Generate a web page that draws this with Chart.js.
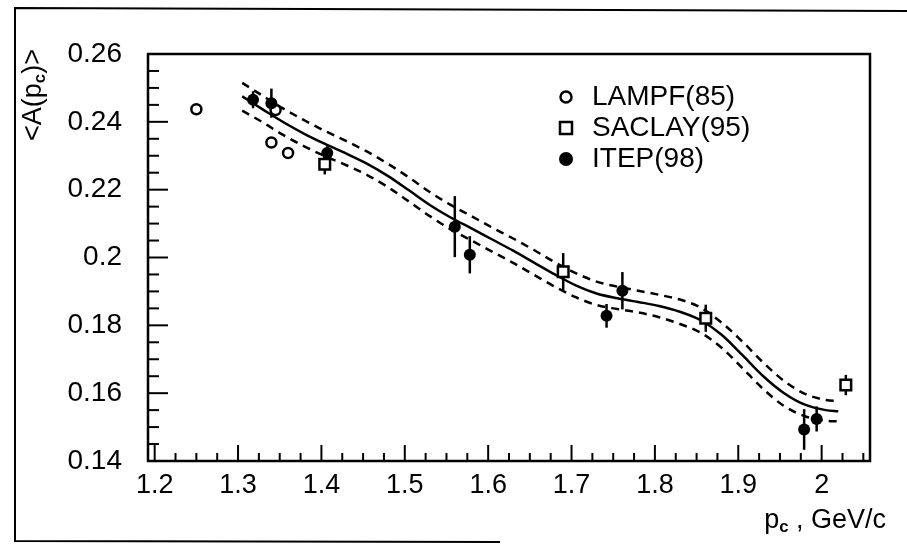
<!DOCTYPE html>
<html>
<head>
<meta charset="utf-8">
<script src="https://cdn.jsdelivr.net/npm/chart.js@4.4.1/dist/chart.umd.min.js"></script>
<style>
  html, body { margin: 0; padding: 0; background: #fff; }
</style>
</head>
<body>
<canvas id="grafico" width="907" height="552"></canvas>
<script>
// LAMPF(85) - circulos abiertos
const lampfX = [1.25, 1.34, 1.345, 1.36];
const lampfY = [0.2437, 0.2339, 0.2435, 0.2308];

// SACLAY(95) - cuadrados abiertos
const saclayX = [1.404, 1.69, 1.861, 2.029];
const saclayY = [0.2275, 0.1958, 0.1821, 0.1624];
const saclayErr = [0.003, 0.0055, 0.004, 0.003];

// ITEP(98) - circulos llenos
const itepX = [1.318, 1.34, 1.407, 1.56, 1.578, 1.742, 1.761, 1.979, 1.994];
const itepY = [0.2465, 0.2455, 0.2308, 0.2091, 0.2008, 0.1828, 0.1902, 0.1493, 0.1524];
const itepErr = [0.0025, 0.0043, 0.002, 0.009, 0.0055, 0.0035, 0.0055, 0.006, 0.0037];

// curva central y banda (lineas discontinuas)
const curveX = [1.305, 1.33, 1.355, 1.38, 1.405, 1.43, 1.455, 1.48, 1.505, 1.53,
                1.555, 1.58, 1.605, 1.63, 1.655, 1.68, 1.705, 1.73, 1.755, 1.78,
                1.805, 1.83, 1.855, 1.88, 1.905, 1.93, 1.955, 1.98, 2.005, 2.02];
const curveY = [0.2475, 0.2436, 0.2398, 0.2364, 0.2334, 0.2306, 0.2276, 0.2240, 0.2198, 0.2155,
                0.2118, 0.2086, 0.2053, 0.2020, 0.1985, 0.1950, 0.1918, 0.1894, 0.1880, 0.1869,
                0.1857, 0.1840, 0.1815, 0.1772, 0.1712, 0.1650, 0.1600, 0.1566, 0.1550, 0.1547];
const upperY = [0.2515, 0.2476, 0.2438, 0.2404, 0.2372, 0.2343, 0.2312, 0.2276, 0.2236, 0.2193,
                0.2155, 0.2122, 0.2088, 0.2056, 0.2022, 0.1986, 0.1954, 0.1929, 0.1914, 0.1902,
                0.1890, 0.1876, 0.1852, 0.1808, 0.1752, 0.1690, 0.1636, 0.1598, 0.1580, 0.1577];
const lowerY = [0.2433, 0.2398, 0.2360, 0.2327, 0.2298, 0.2272, 0.2243, 0.2207, 0.2165, 0.2122,
                0.2083, 0.2050, 0.2017, 0.1984, 0.1949, 0.1914, 0.1883, 0.1860, 0.1848, 0.1838,
                0.1824, 0.1804, 0.1778, 0.1734, 0.1674, 0.1612, 0.1562, 0.1532, 0.1519, 0.1517];

const xTicks = [1.2, 1.3, 1.4, 1.5, 1.6, 1.7, 1.8, 1.9, 2.0];
const yTicks = [0.14, 0.16, 0.18, 0.2, 0.22, 0.24, 0.26];

const legendNames = ["LAMPF(85)", "SACLAY(95)", "ITEP(98)"];

const FONT = "'Liberation Sans', Arial, sans-serif";

const toPoints = (xs, ys) => xs.map((x, i) => ({ x, y: ys[i] }));

// barras de error verticales
const errorBars = {
    id: 'errorBars',
    beforeDatasetsDraw(chart) {
        const ctx = chart.ctx;
        const xs = chart.scales.x;
        const ys = chart.scales.y;
        chart.data.datasets.forEach((ds) => {
            if (!ds.errors) return;
            ctx.save();
            ctx.strokeStyle = '#000';
            ctx.lineWidth = 2.5;
            ds.data.forEach((p, j) => {
                const px = xs.getPixelForValue(p.x);
                ctx.beginPath();
                ctx.moveTo(px, ys.getPixelForValue(p.y - ds.errors[j]));
                ctx.lineTo(px, ys.getPixelForValue(p.y + ds.errors[j]));
                ctx.stroke();
            });
            ctx.restore();
        });
    }
};

// texto con subindice
function setFont(ctx, p, size) {
    const s = p.sub ? size * 0.62 : size;
    ctx.font = (p.sub ? 'bold ' : '') + s + 'px ' + FONT;
}
function partsWidth(ctx, parts, size) {
    let w = 0;
    parts.forEach((p) => { setFont(ctx, p, size); w += ctx.measureText(p.t).width; });
    return w;
}
function drawParts(ctx, parts, x, y, size) {
    let cx = x;
    parts.forEach((p) => {
        setFont(ctx, p, size);
        ctx.fillText(p.t, cx, p.sub ? y + size * 0.22 : y);
        cx += ctx.measureText(p.t).width;
    });
}

// marco, marcas de ejes, titulos y leyenda
const decoracion = {
    id: 'decoracion',
    afterDraw(chart) {
        const ctx = chart.ctx;
        const area = chart.chartArea;
        const xs = chart.scales.x;
        const ys = chart.scales.y;
        ctx.save();
        ctx.strokeStyle = '#000';
        ctx.fillStyle = '#000';

        // marco exterior
        ctx.lineWidth = 2;
        ctx.beginPath();
        ctx.moveTo(907, 11);
        ctx.lineTo(15, 8);
        ctx.lineTo(15, 541);
        ctx.lineTo(500, 542);
        ctx.stroke();

        // caja del grafico
        ctx.lineWidth = 2.5;
        ctx.strokeRect(area.left, area.top, area.right - area.left, area.bottom - area.top);

        // marcas hacia adentro
        ctx.lineWidth = 2;
        for (let v = 1.2; v <= 2.06; v += 0.025) {
            const px = xs.getPixelForValue(v);
            if (px <= area.left + 1 || px >= area.right - 1) continue;
            const major = Math.abs(v * 10 - Math.round(v * 10)) < 1e-6;
            ctx.beginPath();
            ctx.moveTo(px, area.bottom);
            ctx.lineTo(px, area.bottom - (major ? 16 : 8));
            ctx.stroke();
        }
        for (let v = 0.14; v <= 0.2601; v += 0.005) {
            const py = ys.getPixelForValue(v);
            if (py >= area.bottom - 1 || py <= area.top + 1) continue;
            const major = Math.abs(v * 50 - Math.round(v * 50)) < 1e-6;
            ctx.beginPath();
            ctx.moveTo(area.left, py);
            ctx.lineTo(area.left + (major ? 20 : 11), py);
            ctx.stroke();
        }

        // titulo eje y
        ctx.textBaseline = 'middle';
        ctx.textAlign = 'left';
        const yParts = [{ t: '<A(p' }, { t: 'c', sub: true }, { t: ')>' }];
        ctx.save();
        ctx.translate(34, 95);
        ctx.rotate(-Math.PI / 2);
        const wy = partsWidth(ctx, yParts, 27);
        drawParts(ctx, yParts, -wy / 2, 0, 27);
        ctx.restore();

        // titulo eje x
        const xParts = [{ t: 'p' }, { t: 'c', sub: true }, { t: ' , GeV/c' }];
        const wx = partsWidth(ctx, xParts, 27);
        drawParts(ctx, xParts, 886 - wx, 521, 27);

        // leyenda
        const rows = [97, 128, 159];
        const mx = 566;
        ctx.lineWidth = 2.5;
        ctx.beginPath();
        ctx.arc(mx, rows[0], 5.5, 0, Math.PI * 2);
        ctx.stroke();
        ctx.strokeRect(mx - 6, rows[1] - 6, 12, 12);
        ctx.beginPath();
        ctx.arc(mx, rows[2], 7, 0, Math.PI * 2);
        ctx.fill();
        ctx.font = '28px ' + FONT;
        legendNames.forEach((n, i) => ctx.fillText(n, 592, rows[i]));

        ctx.restore();
    }
};

const lineBase = {
    showLine: true,
    borderColor: '#000',
    borderWidth: 2.5,
    pointRadius: 0,
    cubicInterpolationMode: 'monotone',
    order: 3
};

const config = {
    type: 'scatter',
    data: {
        datasets: [
            Object.assign({ label: 'curva', data: toPoints(curveX, curveY) }, lineBase),
            Object.assign({ label: 'banda superior', data: toPoints(curveX, upperY), borderDash: [8, 6] }, lineBase),
            Object.assign({ label: 'banda inferior', data: toPoints(curveX, lowerY), borderDash: [8, 6] }, lineBase),
            {
                label: legendNames[0],
                data: toPoints(lampfX, lampfY),
                pointStyle: 'circle',
                pointRadius: 5,
                borderWidth: 2.5,
                borderColor: '#000',
                backgroundColor: '#fff',
                order: 1
            },
            {
                label: legendNames[1],
                data: toPoints(saclayX, saclayY),
                errors: saclayErr,
                pointStyle: 'rect',
                pointRadius: 7.5,
                borderWidth: 2.5,
                borderColor: '#000',
                backgroundColor: '#fff',
                order: 1
            },
            {
                label: legendNames[2],
                data: toPoints(itepX, itepY),
                errors: itepErr,
                pointStyle: 'circle',
                pointRadius: 6,
                borderWidth: 0,
                borderColor: '#000',
                backgroundColor: '#000',
                order: 0
            }
        ]
    },
    options: {
        responsive: false,
        animation: false,
        layout: { padding: { top: 54, right: 37, left: 0, bottom: 0 } },
        plugins: {
            legend: { display: false },
            tooltip: { enabled: false }
        },
        scales: {
            x: {
                type: 'linear',
                min: 1.192,
                max: 2.058,
                afterBuildTicks: (s) => { s.ticks = xTicks.map((v) => ({ value: v })); },
                afterFit: (s) => { s.height = 91; },
                grid: { display: false, drawTicks: false },
                border: { display: false },
                ticks: {
                    color: '#000',
                    font: { family: FONT, size: 27 },
                    padding: 8,
                    maxRotation: 0,
                    autoSkip: false,
                    callback: (v) => String(Math.round(v * 10) / 10)
                }
            },
            y: {
                type: 'linear',
                min: 0.14,
                max: 0.26,
                afterBuildTicks: (s) => { s.ticks = yTicks.map((v) => ({ value: v })); },
                afterFit: (s) => { s.width = 148; },
                grid: { display: false, drawTicks: false },
                border: { display: false },
                ticks: {
                    color: '#000',
                    font: { family: FONT, size: 28 },
                    padding: 26,
                    autoSkip: false,
                    callback: (v) => String(Math.round(v * 100) / 100)
                }
            }
        }
    },
    plugins: [errorBars, decoracion]
};

new Chart(document.querySelector('#grafico').getContext('2d'), config);
</script>
</body>
</html>
